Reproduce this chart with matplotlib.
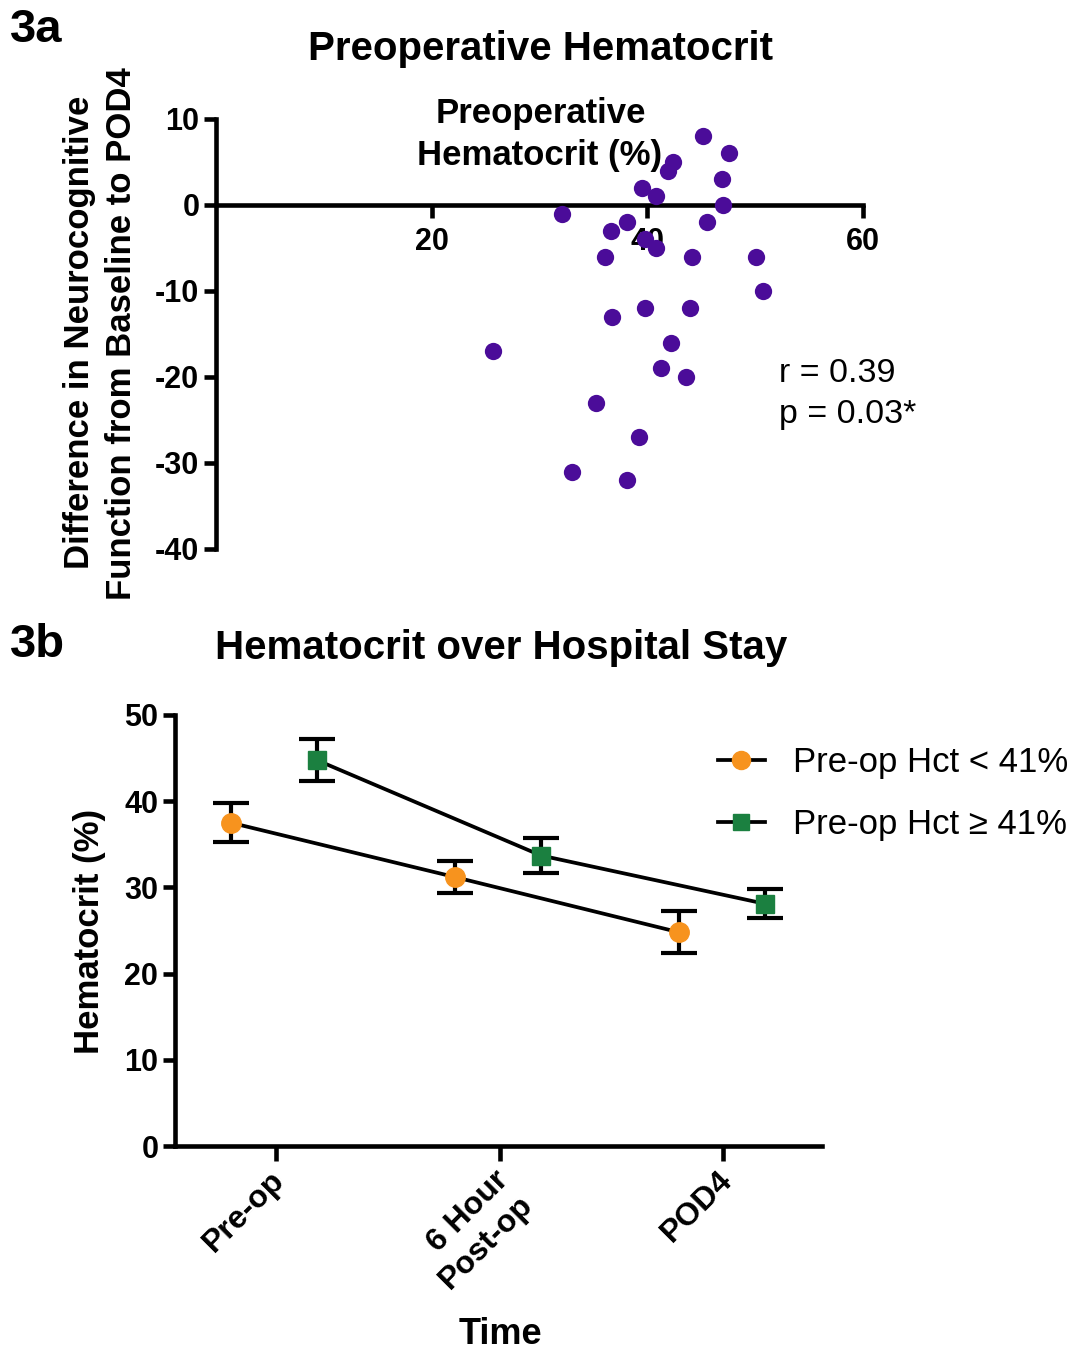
import matplotlib
matplotlib.use("Agg")
import matplotlib.pyplot as plt
import matplotlib.transforms as mtransforms
from matplotlib.lines import Line2D
import numpy as np

plt.rcParams['font.family'] = ['Liberation Sans', 'DejaVu Sans']
plt.rcParams['axes.unicode_minus'] = False

# ---------------- data ----------------
hct_pre = [45.2, 47.6, 42.4, 41.9, 46.9, 39.5, 40.8, 47.0, 32.1, 38.1,
           45.5, 36.6, 39.8, 40.8, 36.1, 44.1, 50.1, 50.7, 39.8, 44.0,
           36.7, 42.2, 25.7, 41.3, 43.6, 35.2, 39.2, 33.0, 38.1]
neuro_diff = [8, 6, 5, 4, 3, 2, 1, 0, -1, -2,
              -2, -3, -4, -5, -6, -6, -6, -10, -12, -12,
              -13, -16, -17, -19, -20, -23, -27, -31, -32]

time_labels = ['Pre-op', '6 Hour\nPost-op', 'POD4']
low_mean = [37.5, 31.2, 24.8]
low_sem = [2.25, 1.9, 2.45]
high_mean = [44.75, 33.7, 28.1]
high_sem = [2.45, 2.0, 1.7]
series_names = ['Pre-op Hct < 41%', 'Pre-op Hct \u2265 41%']

ORANGE = '#F7931E'
GREEN = '#1B8040'
PURPLE = '#4B0C99'

W, H = 1075, 1351
fig = plt.figure(figsize=(W / 100, H / 100), dpi=100)


def fx(x):
    return x / W


def fy(y):
    return 1 - y / H


LW = 3.3
TICK_FS = 22

# ---------------- panel 3a ----------------
ax1 = fig.add_axes([fx(216), fy(549), fx(863) - fx(216), fy(119) - fy(549)])
ax1.scatter(hct_pre, neuro_diff, s=155, color=PURPLE, zorder=3, linewidths=0)
ax1.set_xlim(0, 60)
ax1.set_ylim(-40, 10)
ax1.spines['top'].set_visible(False)
ax1.spines['right'].set_visible(False)
ax1.spines['bottom'].set_position(('data', 0))
ax1.spines['left'].set_linewidth(LW)
ax1.spines['bottom'].set_linewidth(LW)
ax1.set_xticks([20, 40, 60])
ax1.set_yticks([10, 0, -10, -20, -30, -40])
ax1.tick_params(axis='both', direction='out', length=9, width=LW,
                labelsize=TICK_FS, pad=3)
ax1.tick_params(axis='x', pad=7)
for lab in ax1.get_xticklabels() + ax1.get_yticklabels():
    lab.set_fontweight('bold')
ax1.patch.set_alpha(0)

fig.text(fx(541), fy(49), 'Preoperative Hematocrit', ha='center', va='center',
         fontsize=29, fontweight='bold')
fig.text(fx(10), fy(30), '3a', ha='left', va='center', fontsize=34, fontweight='bold')
fig.text(fx(541), fy(113), 'Preoperative', ha='center', va='center',
         fontsize=25, fontweight='bold')
fig.text(fx(540), fy(155), 'Hematocrit (%)', ha='center', va='center',
         fontsize=25, fontweight='bold')
fig.text(fx(80), fy(332), 'Difference in Neurocognitive', ha='center', va='center',
         rotation=90, fontsize=25, fontweight='bold')
fig.text(fx(122), fy(334), 'Function from Baseline to POD4', ha='center', va='center',
         rotation=90, fontsize=25, fontweight='bold')
fig.text(fx(779), fy(373), 'r = 0.39', ha='left', va='center', fontsize=24.5)
fig.text(fx(779), fy(415), 'p = 0.03*', ha='left', va='center', fontsize=24.5)

# ---------------- panel 3b ----------------
ax2 = fig.add_axes([fx(175), fy(1146), fx(822) - fx(175), fy(715) - fy(1146)])
xpos = np.arange(len(time_labels))
off_low, off_high = -0.2, 0.185
ax2.errorbar(xpos + off_low, low_mean, yerr=low_sem, color='black', lw=2.7,
             capsize=13, capthick=3, elinewidth=3, marker='o', markersize=14,
             markerfacecolor=ORANGE, markeredgecolor=ORANGE, zorder=3)
ax2.errorbar(xpos + off_high, high_mean, yerr=high_sem, color='black', lw=2.7,
             capsize=13, capthick=3, elinewidth=3, marker='s', markersize=13,
             markerfacecolor=GREEN, markeredgecolor=GREEN, zorder=3)
ax2.set_xlim(-0.45, 2.44)
ax2.set_ylim(0, 50)
ax2.spines['top'].set_visible(False)
ax2.spines['right'].set_visible(False)
ax2.spines['left'].set_linewidth(LW)
ax2.spines['bottom'].set_linewidth(LW)
ax2.set_yticks([0, 10, 20, 30, 40, 50])
ax2.set_xticks(xpos)
ax2.set_xticklabels(time_labels, rotation=45, ha='right', va='top',
                    rotation_mode='anchor', multialignment='right')
ax2.tick_params(axis='both', direction='out', length=9, width=LW,
                labelsize=TICK_FS, pad=3)
ax2.tick_params(axis='x', labelsize=23, pad=3, length=11)
shift = mtransforms.ScaledTranslation(-6 / 100, 0, fig.dpi_scale_trans)
for lab in ax2.get_xticklabels():
    lab.set_transform(lab.get_transform() + shift)
for lab in ax2.get_xticklabels() + ax2.get_yticklabels():
    lab.set_fontweight('bold')
ax2.patch.set_alpha(0)

handles = [
    Line2D([], [], color='black', lw=2.7, marker='o', markersize=13,
           markerfacecolor=ORANGE, markeredgecolor=ORANGE),
    Line2D([], [], color='black', lw=2.7, marker='s', markersize=12,
           markerfacecolor=GREEN, markeredgecolor=GREEN),
]
leg = ax2.legend(handles, series_names, loc='upper left',
                 bbox_to_anchor=(fx(718), fy(746)),
                 bbox_transform=fig.transFigure, frameon=False, fontsize=25,
                 handlelength=1.35, handletextpad=0.8, labelspacing=0.83,
                 borderaxespad=0, borderpad=0)

fig.text(fx(501), fy(648), 'Hematocrit over Hospital Stay', ha='center', va='center',
         fontsize=29, fontweight='bold')
fig.text(fx(10), fy(645), '3b', ha='left', va='center', fontsize=34, fontweight='bold')
fig.text(fx(90), fy(931), 'Hematocrit (%)', ha='center', va='center',
         rotation=90, fontsize=25, fontweight='bold')
fig.text(fx(500), fy(1335), 'Time', ha='center', va='center',
         fontsize=26, fontweight='bold')

fig.savefig('out.png', dpi=100, facecolor='white')
